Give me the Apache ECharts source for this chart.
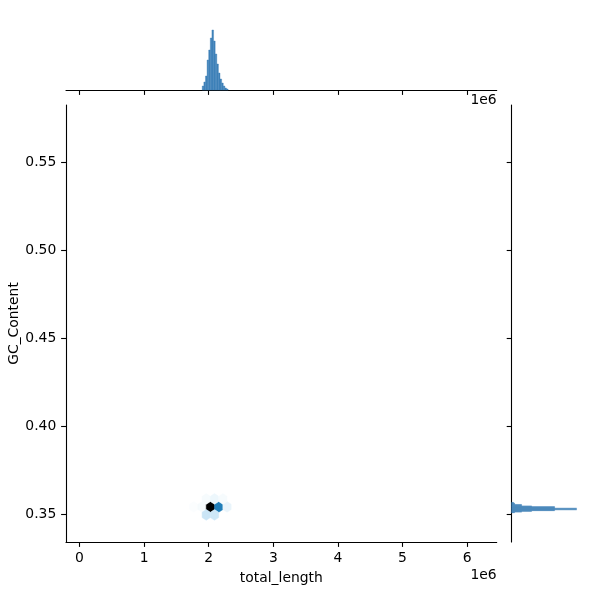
<!DOCTYPE html>
<html><head><meta charset="utf-8">
<script src="https://cdn.jsdelivr.net/npm/echarts@6/dist/echarts.min.js"></script>
<style>html,body{margin:0;padding:0;background:#fff}#c{width:600px;height:600px}</style>
</head><body><div id="c"></div>
<script>
// ---- data ----
const xTicks = [0, 1e6, 2e6, 3e6, 4e6, 5e6, 6e6];
const yTicks = [0.35, 0.40, 0.45, 0.50, 0.55];

// hexbin cells (centre x, centre y, count)
const hexX = [1.768e6, 1.897e6, 2.026e6, 2.155e6, 2.284e6, 1.962e6, 2.090e6, 2.219e6, 1.962e6, 2.090e6];
const hexY = [0.3542, 0.3542, 0.3542, 0.3542, 0.3542, 0.35875, 0.35875, 0.35875, 0.34965, 0.34965];
const hexCount = [2, 3, 100, 58, 6, 3, 5, 3, 13, 12];

// top marginal histogram (total_length)
const topEdges = [1.900e6, 1.925e6, 1.950e6, 1.975e6, 2.000e6, 2.025e6, 2.050e6, 2.075e6, 2.100e6,
                  2.125e6, 2.150e6, 2.175e6, 2.200e6, 2.225e6, 2.250e6, 2.275e6, 2.300e6];
const topCounts = [4, 8, 14, 30, 40, 52, 60, 49, 36, 26, 17, 11, 7, 4, 2, 1];

// right marginal histogram (GC_Content)
const rightEdges = [0.3508, 0.3512, 0.3516, 0.3520, 0.3524, 0.3528, 0.3532, 0.3536, 0.3540,
                    0.3544, 0.3548, 0.3552, 0.3556, 0.3560, 0.3564, 0.3568];
const rightCounts = [3, 10, 20, 43, 65, 43, 65, 43, 43, 20, 10, 10, 3, 3, 2];

// ---- style / layout ----
const X_MIN = -0.209e6, X_MAX = 6.458e6;
const Y_MIN = 0.33424, Y_MAX = 0.5828;
const HEX_SX = 0.1285e6, HEX_SY = 0.0091;
const FONT = 'DejaVu Sans';
const FS = 13.9;
const hexPalette = ['hsl(203,71%,100%)', 'hsl(203,71%,90.9%)', 'hsl(203,71%,81.8%)', 'hsl(203,71%,72.7%)',
  'hsl(203,71%,63.6%)', 'hsl(203,71%,54.5%)', 'hsl(203,71%,45.5%)', 'hsl(203,71%,36.4%)',
  'hsl(203,71%,27.3%)', 'hsl(203,71%,18.2%)', 'hsl(203,71%,9.1%)', 'hsl(203,71%,0%)'];
const histColor = '#3f82b9';

const lineStyle = {color: '#000', width: 1.1};
const axisLine = {show: true, onZero: false, lineStyle};
const tickX = {show: true, length: 4.9, lineStyle, customValues: xTicks};
const tickY = {show: true, length: 4.9, lineStyle, customValues: yTicks};
const labelStyle = {color: '#000', fontFamily: FONT, fontSize: FS, margin: 9.7};

const chart = echarts.init(document.getElementById('c'), null, {renderer: 'canvas'});
chart.setOption({
  animation: false,
  backgroundColor: '#fff',
  grid: [
    {left: 66, top: 105, width: 430.7, height: 437, outerBoundsMode: 'none', containLabel: false},
    {left: 66, top: 14.7, width: 430.7, height: 75.3, outerBoundsMode: 'none', containLabel: false},
    {left: 511.6, top: 105, width: 74.3, height: 437, outerBoundsMode: 'none', containLabel: false}
  ],
  xAxis: [
    {gridIndex: 0, type: 'value', min: X_MIN, max: X_MAX, axisLine, axisTick: tickX,
     axisLabel: Object.assign({customValues: xTicks, formatter: v => String(Math.round(v / 1e6))}, labelStyle),
     splitLine: {show: false},
     name: 'total_length', nameLocation: 'middle', nameGap: 29, nameMoveOverlap: false,
     nameTextStyle: {color: '#000', fontFamily: FONT, fontSize: FS}},
    {gridIndex: 1, type: 'value', min: X_MIN, max: X_MAX, axisLine, axisTick: tickX,
     axisLabel: {show: false}, splitLine: {show: false}},
    {gridIndex: 2, type: 'value', min: 0, max: 74.3, show: false}
  ],
  yAxis: [
    {gridIndex: 0, type: 'value', min: Y_MIN, max: Y_MAX, axisLine, axisTick: tickY,
     axisLabel: Object.assign({customValues: yTicks, formatter: v => v.toFixed(2)}, labelStyle),
     splitLine: {show: false},
     name: 'GC_Content', nameLocation: 'middle', nameGap: 45, nameRotate: 90, nameMoveOverlap: false,
     nameTextStyle: {color: '#000', fontFamily: FONT, fontSize: FS}},
    {gridIndex: 1, type: 'value', min: 0, max: 75.3, show: false},
    {gridIndex: 2, type: 'value', min: Y_MIN, max: Y_MAX, axisLine, axisTick: tickY,
     axisLabel: {show: false}, splitLine: {show: false}}
  ],
  visualMap: {show: false, seriesIndex: 0, dimension: 2, min: 1, max: 100,
              inRange: {color: hexPalette}},
  graphic: [
    {type: 'text', right: 103.3, top: 568, style: {text: '1e6', font: FS + 'px "' + FONT + '"', fill: '#000'}},
    {type: 'text', right: 103.3, top: 93, style: {text: '1e6', font: FS + 'px "' + FONT + '"', fill: '#000'}}
  ],
  series: [
    {type: 'custom', xAxisIndex: 0, yAxisIndex: 0,
     data: hexX.map((x, i) => [x, hexY[i], hexCount[i]]),
     encode: {x: 0, y: 1},
     renderItem: function (params, api) {
       const c = api.coord([api.value(0), api.value(1)]);
       const s = api.size([HEX_SX, HEX_SY]);
       const hw = s[0] / 2, v = s[1] / 3, sd = s[1] / 6;
       const pts = [[c[0] + hw, c[1] - sd], [c[0] + hw, c[1] + sd], [c[0], c[1] + v],
                    [c[0] - hw, c[1] + sd], [c[0] - hw, c[1] - sd], [c[0], c[1] - v]];
       const col = api.visual('color');
       return {type: 'polygon', shape: {points: pts}, style: {fill: col, stroke: col, lineWidth: 0.5}};
     }},
    {type: 'custom', xAxisIndex: 1, yAxisIndex: 1,
     data: topCounts.map((c, i) => [topEdges[i], topEdges[i + 1], c]),
     encode: {x: [0, 1], y: 2},
     renderItem: function (params, api) {
       const p0 = api.coord([api.value(0), 0]);
       const p1 = api.coord([api.value(1), api.value(2)]);
       return {type: 'rect', shape: {x: p0[0], y: p1[1], width: p1[0] - p0[0], height: p0[1] - p1[1]},
               style: {fill: histColor, stroke: histColor, lineWidth: 0.4}};
     }},
    {type: 'custom', xAxisIndex: 2, yAxisIndex: 2,
     data: rightCounts.map((c, i) => [rightEdges[i], rightEdges[i + 1], c]),
     encode: {y: [0, 1], x: 2},
     renderItem: function (params, api) {
       const p0 = api.coord([0, api.value(0)]);
       const p1 = api.coord([api.value(2), api.value(1)]);
       return {type: 'rect', shape: {x: p0[0], y: p1[1], width: p1[0] - p0[0], height: p0[1] - p1[1]},
               style: {fill: histColor, stroke: histColor, lineWidth: 0.3}};
     }}
  ]
});
</script>
</body></html>
